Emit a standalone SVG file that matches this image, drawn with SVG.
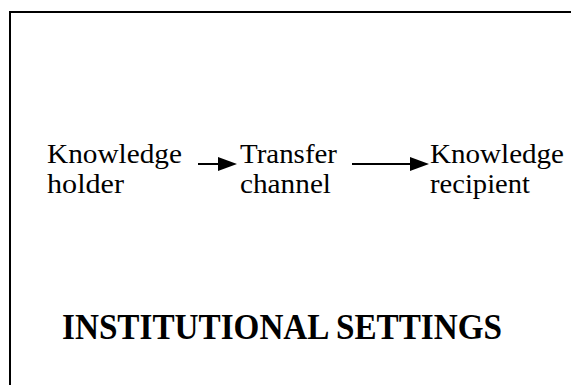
<svg xmlns="http://www.w3.org/2000/svg" width="571" height="385" viewBox="0 0 571 385">
<style>
.t{font-family:"Liberation Serif","Times New Roman",serif;font-size:28px;fill:#000}
.h{font-family:"Liberation Serif","Times New Roman",serif;font-size:35px;font-weight:bold;fill:#000}
.ln{stroke:#000;stroke-width:2;fill:none}
</style>
<rect width="571" height="385" fill="#fff"/>
<path class="ln" d="M10,385 V12 H571"/>
<g id="holder"><text class="t" x="47" y="163" textLength="135" lengthAdjust="spacingAndGlyphs">Knowledge</text><text class="t" x="47" y="193" textLength="77" lengthAdjust="spacingAndGlyphs">holder</text></g>
<g id="channel"><text class="t" x="240" y="163" textLength="97" lengthAdjust="spacingAndGlyphs">Transfer</text><text class="t" x="240" y="193" textLength="91" lengthAdjust="spacingAndGlyphs">channel</text></g>
<g id="recipient"><text class="t" x="430" y="163" textLength="134" lengthAdjust="spacingAndGlyphs">Knowledge</text><text class="t" x="430" y="193" textLength="100" lengthAdjust="spacingAndGlyphs">recipient</text></g>
<g id="connectors">
<line class="ln" x1="198" y1="164" x2="222" y2="164"/>
<polygon points="218,157 237,164 218,171" fill="#000"/>
<line class="ln" x1="352" y1="164" x2="413" y2="164"/>
<polygon points="410,157 429,164 410,171" fill="#000"/>
</g>
<g id="settings"><text class="h" x="62" y="339" textLength="440" lengthAdjust="spacingAndGlyphs">INSTITUTIONAL SETTINGS</text></g>
</svg>
